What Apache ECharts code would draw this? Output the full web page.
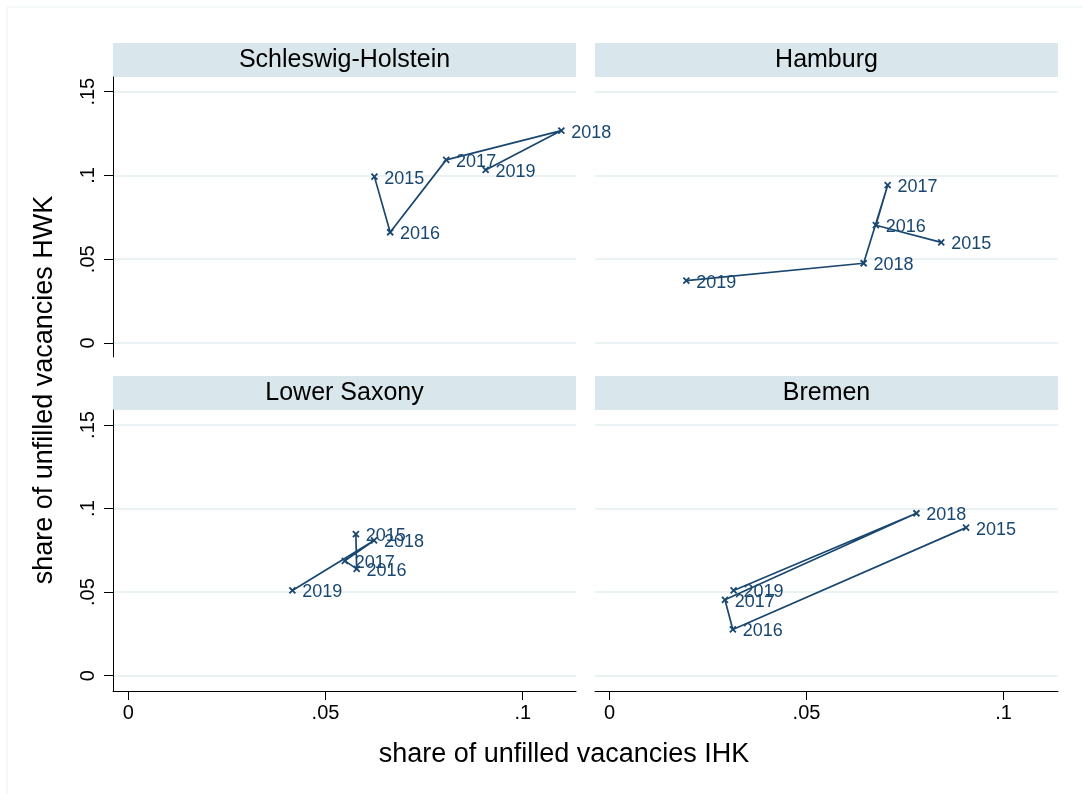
<!DOCTYPE html>
<html>
<head>
<meta charset="utf-8">
<script src="https://cdn.jsdelivr.net/npm/echarts@6/dist/echarts.min.js"></script>
<style>
  html, body { margin: 0; padding: 0; background: #fff; }
  #chart { width: 1083px; height: 794px; }
</style>
</head>
<body>
<div id="chart"></div>
<script>
// data
const years = ['2015', '2016', '2017', '2018', '2019']
const states = ['Schleswig-Holstein', 'Hamburg', 'Lower Saxony', 'Bremen']
const shIhk = [0.0624, 0.0664, 0.0806, 0.1098, 0.0906]
const shHwk = [0.0993, 0.0661, 0.1093, 0.1268, 0.1033]
const hhIhk = [0.0842, 0.0676, 0.0706, 0.0645, 0.0195]
const hhHwk = [0.0601, 0.0703, 0.0942, 0.0476, 0.0372]
const nsIhk = [0.0577, 0.0579, 0.0549, 0.0623, 0.0416]
const nsHwk = [0.0847, 0.0639, 0.0687, 0.0809, 0.0510]
const hbIhk = [0.0905, 0.0313, 0.0293, 0.0779, 0.0315]
const hbHwk = [0.0886, 0.0277, 0.0454, 0.0972, 0.0510]
const xTicks = [0, 0.05, 0.1]
const yTicks = [0, 0.05, 0.1, 0.15]

const seriesX = [shIhk, hhIhk, nsIhk, hbIhk]
const seriesY = [shHwk, hhHwk, nsHwk, hbHwk]

const NAVY = '#1a476f'
const FONT = '"Liberation Sans", Arial, sans-serif'

// panel layout (pixels)
const panels = [
  { left: 113, top: 77, height: 280, xMin: -0.00388, xMax: 0.11351, yMin: -0.00836, yMax: 0.15877, showX: false, showY: true },
  { left: 595, top: 77, height: 280, xMin: -0.00368, xMax: 0.11383, yMin: -0.00836, yMax: 0.15877, showX: false, showY: false },
  { left: 113, top: 410, height: 281, xMin: -0.00388, xMax: 0.11351, yMin: -0.00915, yMax: 0.15897, showX: true, showY: true },
  { left: 595, top: 410, height: 281, xMin: -0.00368, xMax: 0.11383, yMin: -0.00915, yMax: 0.15897, showX: true, showY: false }
]
const panelWidth = 463
const stripHeight = 34

const fmt = v => (v === 0 ? '0' : String(+v.toFixed(3)).replace(/^0/, ''))

const chart = echarts.init(document.getElementById('chart'))

const graphics = [
  {
    type: 'rect',
    shape: { x: 7, y: 7, width: 1100, height: 800 },
    style: { fill: 'none', stroke: '#edf3f4', lineWidth: 1 },
    silent: true
  },
  {
    type: 'text',
    x: 564, y: 755,
    style: { text: 'share of unfilled vacancies IHK', font: '27px ' + FONT, fill: '#000', align: 'center', verticalAlign: 'middle' }
  },
  {
    type: 'text',
    x: 45, y: 390,
    rotation: Math.PI / 2,
    style: { text: 'share of unfilled vacancies HWK', font: '27px ' + FONT, fill: '#000', align: 'center', verticalAlign: 'middle' }
  }
]

panels.forEach((p, i) => {
  graphics.push({
    type: 'rect',
    shape: { x: p.left, y: p.top - stripHeight, width: panelWidth, height: stripHeight },
    style: { fill: '#d9e6eb' },
    silent: true
  })
  graphics.push({
    type: 'text',
    x: p.left + panelWidth / 2,
    y: p.top - stripHeight / 2,
    style: { text: states[i], font: '25px ' + FONT, fill: '#000', align: 'center', verticalAlign: 'middle' }
  })
})

const option = {
  animation: false,
  backgroundColor: '#fff',
  graphic: graphics,
  grid: panels.map(p => ({ left: p.left, top: p.top, width: panelWidth, height: p.height, containLabel: false })),
  xAxis: panels.map((p, i) => ({
    type: 'value',
    gridIndex: i,
    min: p.xMin,
    max: p.xMax,
    axisLine: { show: p.showX, onZero: false, lineStyle: { color: '#000', width: 1 } },
    axisTick: { show: p.showX, length: 9, customValues: xTicks, lineStyle: { color: '#000' } },
    axisLabel: { show: p.showX, customValues: xTicks, formatter: fmt, fontSize: 20, fontFamily: FONT, color: '#000', margin: 12 },
    splitLine: { show: false }
  })),
  yAxis: panels.map((p, i) => ({
    type: 'value',
    gridIndex: i,
    min: p.yMin,
    max: p.yMax,
    axisLine: { show: p.showY, onZero: false, lineStyle: { color: '#000', width: 1 } },
    axisTick: { show: p.showY, length: 9, customValues: yTicks, lineStyle: { color: '#000' } },
    axisLabel: { show: p.showY, customValues: yTicks, formatter: fmt, rotate: 90, fontSize: 20, fontFamily: FONT, color: '#000', margin: 15 },
    splitLine: { show: true, lineStyle: { color: '#eaf2f3', width: 2 } }
  })),
  series: panels.map((p, i) => ({
    type: 'line',
    name: states[i],
    xAxisIndex: i,
    yAxisIndex: i,
    data: seriesX[i].map((x, k) => [x, seriesY[i][k]]),
    symbol: 'path://M0,0L10,10M10,0L0,10',
    symbolSize: 6,
    showSymbol: true,
    lineStyle: { color: NAVY, width: 1.7 },
    itemStyle: { color: NAVY, borderColor: NAVY, borderWidth: 1.8 },
    label: {
      show: true,
      position: 'right',
      distance: 6,
      offset: [0, 2],
      formatter: params => years[params.dataIndex],
      fontSize: 18,
      fontFamily: FONT,
      color: NAVY
    },
    emphasis: { disabled: true }
  }))
}

chart.setOption(option)
window.addEventListener('resize', () => chart.resize())
</script>
</body>
</html>
